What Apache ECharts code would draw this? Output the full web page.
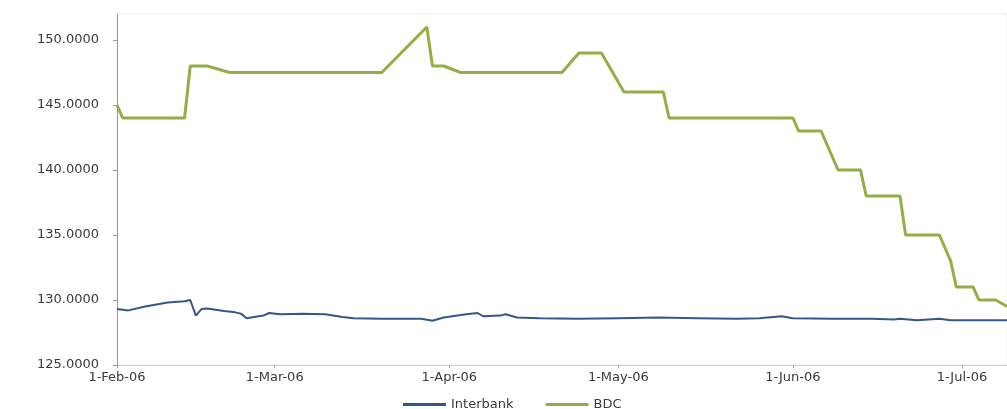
<!DOCTYPE html>
<html>
<head>
<meta charset="utf-8">
<script src="https://cdn.jsdelivr.net/npm/echarts@6/dist/echarts.min.js"></script>
<style>
  html, body { margin: 0; padding: 0; background: #ffffff; }
  #chart { width: 1007px; height: 409px; }
</style>
</head>
<body>
<div id="chart"></div>
<script>
// ---- Data ----
const axisStart = '2006-02-01';
const axisEnd = '2006-07-09';
const monthNames = ['Jan','Feb','Mar','Apr','May','Jun','Jul','Aug','Sep','Oct','Nov','Dec'];

const interbankDates = [
  '2006-02-01','2006-02-03','2006-02-06','2006-02-08','2006-02-10','2006-02-13','2006-02-14',
  '2006-02-15','2006-02-16','2006-02-17','2006-02-20','2006-02-22','2006-02-23','2006-02-24',
  '2006-02-27','2006-02-28','2006-03-02','2006-03-06','2006-03-10','2006-03-13','2006-03-15',
  '2006-03-20','2006-03-27','2006-03-29','2006-03-31','2006-04-04','2006-04-06','2006-04-07',
  '2006-04-10','2006-04-11','2006-04-13','2006-04-17','2006-04-24','2006-05-01','2006-05-08',
  '2006-05-15','2006-05-22','2006-05-26','2006-05-30','2006-06-01','2006-06-08','2006-06-15',
  '2006-06-19','2006-06-20','2006-06-23','2006-06-27','2006-06-29','2006-07-09'
];
const interbankValues = [
  129.30,129.20,129.50,129.65,129.80,129.90,130.00,
  128.80,129.30,129.35,129.15,129.05,128.95,128.60,
  128.80,129.00,128.90,128.95,128.90,128.70,128.60,
  128.55,128.55,128.40,128.65,128.90,129.00,128.75,
  128.80,128.90,128.65,128.60,128.55,128.60,128.65,
  128.60,128.55,128.60,128.75,128.60,128.55,128.55,
  128.50,128.55,128.45,128.55,128.45,128.45
];

const bdcDates = [
  '2006-02-01','2006-02-02','2006-02-13','2006-02-14','2006-02-17','2006-02-21','2006-03-20',
  '2006-03-28','2006-03-29','2006-03-31','2006-04-03','2006-04-21','2006-04-24','2006-04-28',
  '2006-05-02','2006-05-09','2006-05-10','2006-06-01','2006-06-02','2006-06-06','2006-06-09',
  '2006-06-13','2006-06-14','2006-06-20','2006-06-21','2006-06-27','2006-06-29','2006-06-30',
  '2006-07-03','2006-07-04','2006-07-07','2006-07-09'
];
const bdcValues = [
  145.0,144.0,144.0,148.0,148.0,147.5,147.5,
  151.0,148.0,148.0,147.5,147.5,149.0,149.0,
  146.0,146.0,144.0,144.0,143.0,143.0,140.0,
  140.0,138.0,138.0,135.0,135.0,133.0,131.0,
  131.0,130.0,130.0,129.5
];

const yTicks = [125, 130, 135, 140, 145, 150];

// ---- Build daily category axis ----
function parseD(s) { const p = s.split('-').map(Number); return Date.UTC(p[0], p[1]-1, p[2]); }
const DAY = 86400000;
const categories = [];
for (let t = parseD(axisStart); t <= parseD(axisEnd); t += DAY) {
  const d = new Date(t);
  const y = d.getUTCFullYear(), m = d.getUTCMonth() + 1, dd = d.getUTCDate();
  categories.push(y + '-' + String(m).padStart(2,'0') + '-' + String(dd).padStart(2,'0'));
}
function toSeries(dates, values) {
  const arr = categories.map(() => null);
  dates.forEach((d, i) => { const idx = categories.indexOf(d); if (idx >= 0) arr[idx] = values[i]; });
  return arr;
}
function isMonthStart(idx) { return categories[idx].slice(8) === '01'; }
function fmtDate(c) {
  const m = parseInt(c.slice(5,7), 10), d = parseInt(c.slice(8), 10);
  return d + '-' + monthNames[m-1] + '-' + c.slice(2,4);
}

const chart = echarts.init(document.getElementById('chart'), null, { renderer: 'canvas' });
const textStyle = { fontFamily: 'DejaVu Sans', fontSize: 13, color: '#3a3a3a' };

chart.setOption({
  animation: false,
  backgroundColor: '#ffffff',
  grid: { left: 117, right: 0, top: 14, bottom: 44, show: true, borderColor: '#eeeeee', borderWidth: 1 },
  legend: {
    left: 398, top: 393,
    itemWidth: 43, itemHeight: 3, itemGap: 32,
    icon: 'rect',
    textStyle: Object.assign({}, textStyle, { padding: [0, 0, 0, 0] }),
    data: ['Interbank', 'BDC']
  },
  xAxis: {
    type: 'category',
    data: categories,
    boundaryGap: false,
    axisLine: { show: true, lineStyle: { color: '#d0d0d0', width: 1 } },
    axisTick: { show: true, alignWithLabel: true, length: 3, interval: (i) => isMonthStart(i), lineStyle: { color: '#a0a0a0' } },
    axisLabel: Object.assign({}, textStyle, {
      interval: (i) => isMonthStart(i),
      formatter: (v) => fmtDate(v),
      margin: 6
    }),
    splitLine: { show: false }
  },
  yAxis: {
    type: 'value',
    min: 125, max: 152, interval: 5,
    axisLine: { show: true, lineStyle: { color: '#9a9a9a', width: 1 } },
    axisTick: { show: true, length: 4, lineStyle: { color: '#9a9a9a' } },
    axisLabel: Object.assign({}, textStyle, {
      showMaxLabel: false,
      margin: 18,
      formatter: (v) => yTicks.indexOf(v) >= 0 ? v.toFixed(4) : ''
    }),
    splitLine: { show: false }
  },
  series: [
    {
      name: 'Interbank', type: 'line', data: toSeries(interbankDates, interbankValues),
      connectNulls: true, symbol: 'none', smooth: false,
      lineStyle: { color: '#34578a', width: 2 }, itemStyle: { color: '#34578a' }
    },
    {
      name: 'BDC', type: 'line', data: toSeries(bdcDates, bdcValues),
      connectNulls: true, symbol: 'none', smooth: false,
      lineStyle: { color: '#93ae44', width: 3 }, itemStyle: { color: '#93ae44' }
    }
  ]
});
</script>
</body>
</html>
